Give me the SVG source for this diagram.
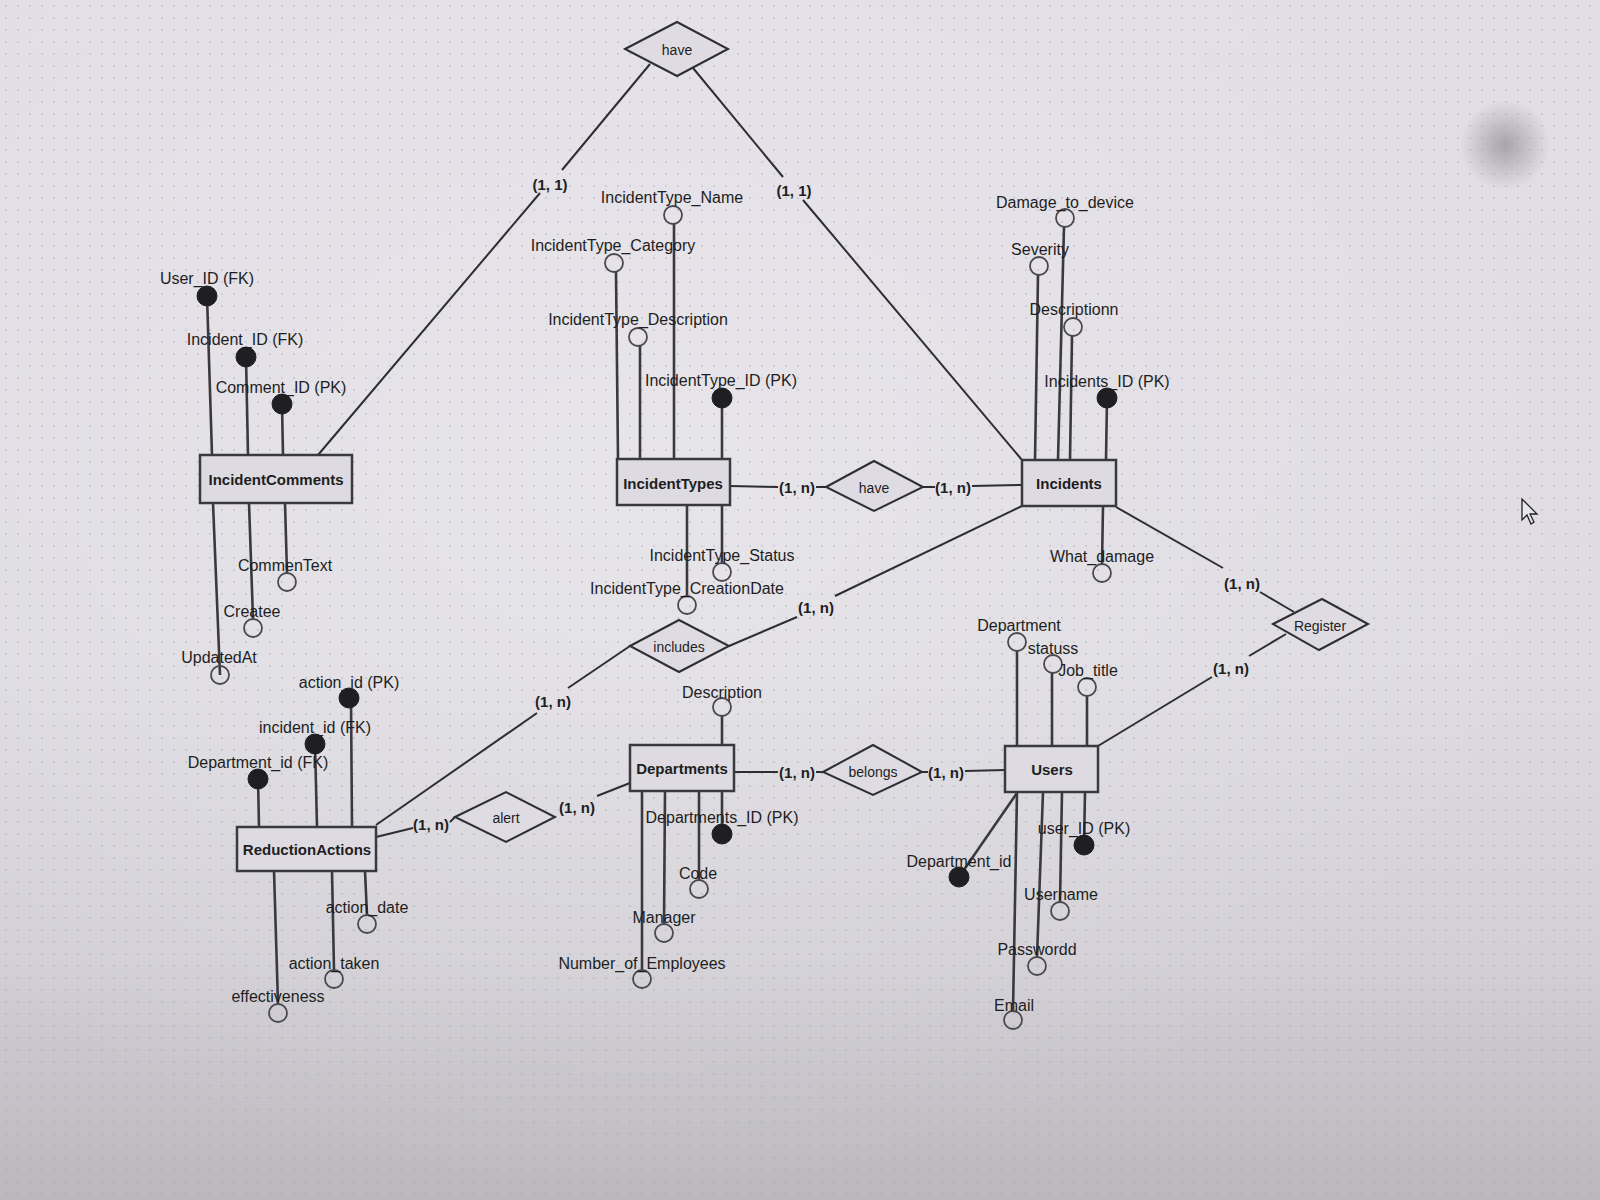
<svg xmlns="http://www.w3.org/2000/svg" width="1600" height="1200" viewBox="0 0 1600 1200">
<style>
.ent{fill:#dddbe1;stroke:#3a3a3e;stroke-width:2.5}
.rel{fill:#dedce2;stroke:#2e2e32;stroke-width:2}
.ln{stroke:#2e2e32;stroke-width:2;fill:none}
.al{stroke:#3a3a3e;stroke-width:2.6;fill:none}
.pk{fill:#1f1f22;stroke:#1f1f22;stroke-width:1}
.op{fill:none;stroke:#4a4a4e;stroke-width:1.8}
text{font-family:"Liberation Sans",Arial,sans-serif;fill:#1e1e22;dominant-baseline:central;text-anchor:middle}
.et{font-size:15px;font-weight:bold}
.at{font-size:16px}
.rt{font-size:14px}
.cd{font-size:15px;font-weight:bold}
</style>
<defs>
<linearGradient id="bg" x1="0" y1="0" x2="0" y2="1">
<stop offset="0" stop-color="#e2dee6"/>
<stop offset="0.55" stop-color="#dedce2"/>
<stop offset="0.8" stop-color="#d2d0d6"/>
<stop offset="1" stop-color="#bab8bd"/>
</linearGradient>
<radialGradient id="hl" cx="0.4" cy="0.4" r="0.6">
<stop offset="0" stop-color="#ffffff" stop-opacity="0.25"/>
<stop offset="1" stop-color="#ffffff" stop-opacity="0"/>
</radialGradient>
<radialGradient id="sm" cx="0.5" cy="0.5" r="0.5">
<stop offset="0" stop-color="#8e8c92" stop-opacity="0.7"/>
<stop offset="1" stop-color="#8e8c92" stop-opacity="0"/>
</radialGradient>
<pattern id="dots" width="12" height="12" patternUnits="userSpaceOnUse">
<circle cx="6" cy="6" r="0.9" fill="#8a8890" fill-opacity="0.35"/>
</pattern>
</defs>
<rect width="1600" height="1200" fill="url(#bg)"/>
<rect width="1600" height="1200" fill="url(#hl)"/>
<rect width="1600" height="1200" fill="url(#dots)"/>
<ellipse cx="1505" cy="145" rx="45" ry="45" fill="url(#sm)"/>

<g id="connectors">
<!-- top have -->
<line class="ln" x1="318" y1="455" x2="540" y2="193"/>
<line class="ln" x1="562" y1="170" x2="650" y2="64"/>
<line class="ln" x1="1022" y1="460" x2="803" y2="200"/>
<line class="ln" x1="783" y1="177" x2="693" y2="68"/>
<text class="cd" x="550" y="184">(1, 1)</text>
<text class="cd" x="794" y="190">(1, 1)</text>
<!-- middle have -->
<line class="ln" x1="730" y1="486" x2="778" y2="487"/>
<line class="ln" x1="816" y1="487" x2="826" y2="487"/>
<line class="ln" x1="923" y1="487" x2="935" y2="487"/>
<line class="ln" x1="972" y1="486" x2="1022" y2="485"/>
<text class="cd" x="797" y="487">(1, n)</text>
<text class="cd" x="953" y="487">(1, n)</text>
<!-- Register -->
<line class="ln" x1="1116" y1="507" x2="1223" y2="568"/>
<line class="ln" x1="1260" y1="592" x2="1294" y2="612"/>
<line class="ln" x1="1286" y1="634" x2="1249" y2="656"/>
<line class="ln" x1="1212" y1="677" x2="1098" y2="746"/>
<text class="cd" x="1242" y="583">(1, n)</text>
<text class="cd" x="1231" y="668">(1, n)</text>
<!-- includes -->
<line class="ln" x1="1022" y1="506" x2="835" y2="596"/>
<line class="ln" x1="797" y1="617" x2="729" y2="646"/>
<line class="ln" x1="630" y1="646" x2="568" y2="688"/>
<line class="ln" x1="537" y1="713" x2="376" y2="825"/>
<text class="cd" x="816" y="607">(1, n)</text>
<text class="cd" x="553" y="701">(1, n)</text>
<!-- alert -->
<line class="ln" x1="376" y1="837" x2="413" y2="828"/>
<line class="ln" x1="450" y1="822" x2="455" y2="817"/>
<line class="ln" x1="597" y1="796" x2="630" y2="783"/>
<text class="cd" x="431" y="824">(1, n)</text>
<text class="cd" x="577" y="807">(1, n)</text>
<!-- belongs -->
<line class="ln" x1="734" y1="772" x2="778" y2="772"/>
<line class="ln" x1="816" y1="772" x2="823" y2="772"/>
<line class="ln" x1="922" y1="772" x2="928" y2="772"/>
<line class="ln" x1="965" y1="771" x2="1005" y2="770"/>
<text class="cd" x="797" y="772">(1, n)</text>
<text class="cd" x="946" y="772">(1, n)</text>
</g>

<g id="rel-have-top">
<polygon class="rel" points="625,49 677,22 728,49 677,76"/>
<text class="rt" x="677" y="50">have</text>
</g>
<g id="rel-have-mid">
<polygon class="rel" points="826,487 874,461 923,487 874,511"/>
<text class="rt" x="874" y="488">have</text>
</g>
<g id="rel-register">
<polygon class="rel" points="1273,624 1322,599 1368,624 1319,650"/>
<text class="rt" x="1320" y="626">Register</text>
</g>
<g id="rel-includes">
<polygon class="rel" points="630,646 679,620 729,646 679,672"/>
<text class="rt" x="679" y="647">includes</text>
</g>
<g id="rel-alert">
<polygon class="rel" points="455,817 506,792 555,817 506,842"/>
<text class="rt" x="506" y="818">alert</text>
</g>
<g id="rel-belongs">
<polygon class="rel" points="823,772 873,745 922,772 873,795"/>
<text class="rt" x="873" y="772">belongs</text>
</g>

<g id="IncidentComments">
<line class="al" x1="207" y1="296" x2="212" y2="455"/>
<line class="al" x1="246" y1="357" x2="248" y2="455"/>
<line class="al" x1="282" y1="404" x2="283" y2="455"/>
<line class="al" x1="285" y1="503" x2="287" y2="573"/>
<line class="al" x1="249" y1="503" x2="253" y2="619"/>
<line class="al" x1="213" y1="503" x2="220" y2="675"/>
<rect class="ent" x="200" y="455" width="152" height="48"/>
<text class="et" x="276" y="479">IncidentComments</text>
<circle class="pk" cx="207" cy="296" r="10"/>
<circle class="pk" cx="246" cy="357" r="10"/>
<circle class="pk" cx="282" cy="404" r="10"/>
<circle class="op" cx="287" cy="582" r="9"/>
<circle class="op" cx="253" cy="628" r="9"/>
<circle class="op" cx="220" cy="675" r="9"/>
<text class="at" x="207" y="278">User_ID (FK)</text>
<text class="at" x="245" y="339">Incident_ID (FK)</text>
<text class="at" x="281" y="387">Comment_ID (PK)</text>
<text class="at" x="285" y="565">CommenText</text>
<text class="at" x="252" y="611">Createe</text>
<text class="at" x="219" y="657">UpdatedAt</text>
</g>

<g id="IncidentTypes">
<line class="al" x1="674" y1="224" x2="674" y2="459"/>
<line class="al" x1="616" y1="272" x2="618" y2="459"/>
<line class="al" x1="640" y1="346" x2="640" y2="459"/>
<line class="al" x1="722" y1="398" x2="722" y2="459"/>
<line class="al" x1="722" y1="505" x2="722" y2="563"/>
<line class="al" x1="687" y1="505" x2="687" y2="596"/>
<rect class="ent" x="617" y="459" width="113" height="46"/>
<text class="et" x="673" y="483">IncidentTypes</text>
<circle class="op" cx="673" cy="215" r="9"/>
<circle class="op" cx="614" cy="263" r="9"/>
<circle class="op" cx="638" cy="337" r="9"/>
<circle class="pk" cx="722" cy="398" r="10"/>
<circle class="op" cx="722" cy="572" r="9"/>
<circle class="op" cx="687" cy="605" r="9"/>
<text class="at" x="672" y="197">IncidentType_Name</text>
<text class="at" x="613" y="245">IncidentType_Category</text>
<text class="at" x="638" y="319">IncidentType_Description</text>
<text class="at" x="721" y="380">IncidentType_ID (PK)</text>
<text class="at" x="722" y="555">IncidentType_Status</text>
<text class="at" x="687" y="588">IncidentType_CreationDate</text>
</g>

<g id="Incidents">
<line class="al" x1="1064" y1="227" x2="1058" y2="460"/>
<line class="al" x1="1038" y1="275" x2="1035" y2="460"/>
<line class="al" x1="1072" y1="336" x2="1070" y2="460"/>
<line class="al" x1="1107" y1="398" x2="1106" y2="460"/>
<line class="al" x1="1103" y1="506" x2="1102" y2="564"/>
<rect class="ent" x="1022" y="460" width="94" height="46"/>
<text class="et" x="1069" y="483">Incidents</text>
<circle class="op" cx="1065" cy="218" r="9"/>
<circle class="op" cx="1039" cy="266" r="9"/>
<circle class="op" cx="1073" cy="327" r="9"/>
<circle class="pk" cx="1107" cy="398" r="10"/>
<circle class="op" cx="1102" cy="573" r="9"/>
<text class="at" x="1065" y="202">Damage_to_device</text>
<text class="at" x="1040" y="249">Severity</text>
<text class="at" x="1074" y="309">Descriptionn</text>
<text class="at" x="1107" y="381">Incidents_ID (PK)</text>
<text class="at" x="1102" y="556">What_damage</text>
</g>

<g id="ReductionActions">
<line class="al" x1="351" y1="698" x2="352" y2="827"/>
<line class="al" x1="315" y1="744" x2="317" y2="827"/>
<line class="al" x1="258" y1="779" x2="259" y2="827"/>
<line class="al" x1="365" y1="871" x2="367" y2="915"/>
<line class="al" x1="332" y1="871" x2="334" y2="970"/>
<line class="al" x1="274" y1="871" x2="278" y2="1004"/>
<rect class="ent" x="237" y="827" width="139" height="44"/>
<text class="et" x="307" y="849">ReductionActions</text>
<circle class="pk" cx="349" cy="698" r="10"/>
<circle class="pk" cx="315" cy="744" r="10"/>
<circle class="pk" cx="258" cy="779" r="10"/>
<circle class="op" cx="367" cy="924" r="9"/>
<circle class="op" cx="334" cy="979" r="9"/>
<circle class="op" cx="278" cy="1013" r="9"/>
<text class="at" x="349" y="682">action_id (PK)</text>
<text class="at" x="315" y="727">incident_id (FK)</text>
<text class="at" x="258" y="762">Department_id (FK)</text>
<text class="at" x="367" y="907">action_date</text>
<text class="at" x="334" y="963">action_taken</text>
<text class="at" x="278" y="996">effectiveness</text>
</g>

<g id="Departments">
<line class="al" x1="722" y1="716" x2="722" y2="745"/>
<line class="al" x1="722" y1="791" x2="722" y2="834"/>
<line class="al" x1="699" y1="791" x2="699" y2="880"/>
<line class="al" x1="665" y1="791" x2="664" y2="924"/>
<line class="al" x1="642" y1="791" x2="642" y2="970"/>
<rect class="ent" x="630" y="745" width="104" height="46"/>
<text class="et" x="682" y="768">Departments</text>
<circle class="op" cx="722" cy="707" r="9"/>
<circle class="pk" cx="722" cy="834" r="10"/>
<circle class="op" cx="699" cy="889" r="9"/>
<circle class="op" cx="664" cy="933" r="9"/>
<circle class="op" cx="642" cy="979" r="9"/>
<text class="at" x="722" y="692">Description</text>
<text class="at" x="722" y="817">Departments_ID (PK)</text>
<text class="at" x="698" y="873">Code</text>
<text class="at" x="664" y="917">Manager</text>
<text class="at" x="642" y="963">Number_of_Employees</text>
</g>

<g id="Users">
<line class="al" x1="1017" y1="651" x2="1017" y2="746"/>
<line class="al" x1="1052" y1="673" x2="1052" y2="746"/>
<line class="al" x1="1087" y1="696" x2="1087" y2="746"/>
<line class="al" x1="1017" y1="793" x2="959" y2="877"/>
<line class="al" x1="1085" y1="792" x2="1084" y2="845"/>
<line class="al" x1="1062" y1="792" x2="1060" y2="902"/>
<line class="al" x1="1043" y1="792" x2="1037" y2="957"/>
<line class="al" x1="1017" y1="792" x2="1013" y2="1011"/>
<rect class="ent" x="1005" y="746" width="93" height="46"/>
<text class="et" x="1052" y="769">Users</text>
<circle class="op" cx="1017" cy="642" r="9"/>
<circle class="op" cx="1053" cy="664" r="9"/>
<circle class="op" cx="1087" cy="687" r="9"/>
<circle class="pk" cx="959" cy="877" r="10"/>
<circle class="pk" cx="1084" cy="845" r="10"/>
<circle class="op" cx="1060" cy="911" r="9"/>
<circle class="op" cx="1037" cy="966" r="9"/>
<circle class="op" cx="1013" cy="1020" r="9"/>
<text class="at" x="1019" y="625">Department</text>
<text class="at" x="1053" y="648">statuss</text>
<text class="at" x="1088" y="670">Job_title</text>
<text class="at" x="959" y="861">Department_id</text>
<text class="at" x="1084" y="828">user_ID (PK)</text>
<text class="at" x="1061" y="894">Username</text>
<text class="at" x="1037" y="949">Passwordd</text>
<text class="at" x="1014" y="1005">Email</text>
</g>

<path d="M1522,499 L1522,520 L1527,515 L1531,524 L1534,522 L1530,514 L1537,514 Z" fill="#e8e8ea" stroke="#222" stroke-width="1.3"/>
</svg>
